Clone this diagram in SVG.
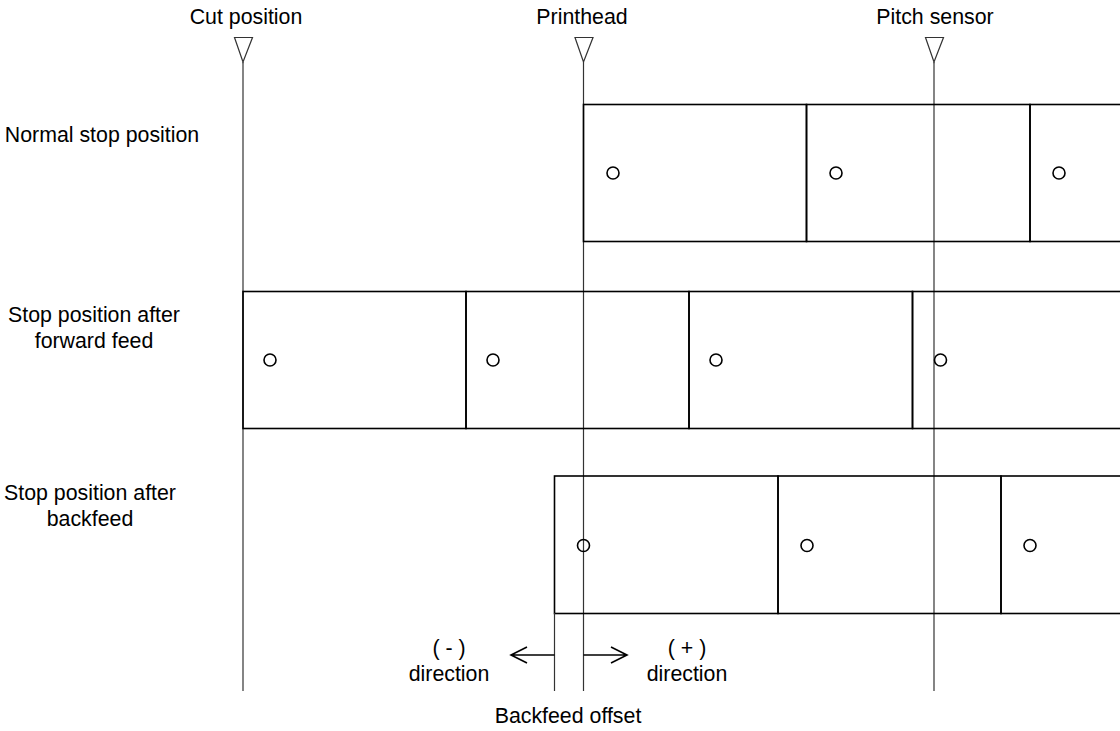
<svg xmlns="http://www.w3.org/2000/svg" width="1120" height="731" viewBox="0 0 1120 731">
<style>
.t{font-family:"Liberation Sans",Arial,sans-serif;font-size:21.33px;fill:#000;text-anchor:middle}
.ref{stroke:#333;stroke-width:1.2;fill:none}
.tri{stroke:#333;stroke-width:1.2;fill:#fff}
.lab{stroke:#000;stroke-width:1.6;fill:none}
.hole{stroke:#000;stroke-width:1.6;fill:none}
.arr{stroke:#000;stroke-width:1.6;fill:none}
</style>
<rect width="1120" height="731" fill="#fff"/>
<g id="reference-lines">
<g id="cut-position">
<line class="ref" x1="243" y1="62" x2="243" y2="691"/>
<polygon class="tri" points="234.5,37.5 252.5,37.5 243,62"/>
<text class="t" x="246" y="24">Cut position</text>
</g>
<g id="printhead">
<line class="ref" x1="583.5" y1="62" x2="583.5" y2="691"/>
<polygon class="tri" points="575,37.5 593,37.5 583.5,62"/>
<text class="t" x="582" y="24">Printhead</text>
</g>
<g id="pitch-sensor">
<line class="ref" x1="934" y1="62" x2="934" y2="691"/>
<polygon class="tri" points="925.5,37.5 943.5,37.5 934,62"/>
<text class="t" x="935" y="24">Pitch sensor</text>
</g>
</g>
<g id="row-normal">
<text class="t" x="102" y="142">Normal stop position</text>
<rect class="lab" x="583.5" y="104.5" width="223" height="137"/>
<rect class="lab" x="806.5" y="104.5" width="223.5" height="137"/>
<rect class="lab" x="1030" y="104.5" width="120" height="137"/>
<circle class="hole" cx="613" cy="173" r="6"/>
<circle class="hole" cx="836" cy="173" r="6"/>
<circle class="hole" cx="1059" cy="173" r="6"/>
</g>
<g id="row-forward">
<text class="t" x="94" y="322">Stop position after</text>
<text class="t" x="94" y="348">forward feed</text>
<rect class="lab" x="243" y="291.5" width="223" height="137"/>
<rect class="lab" x="466" y="291.5" width="223" height="137"/>
<rect class="lab" x="689" y="291.5" width="223.5" height="137"/>
<rect class="lab" x="912.5" y="291.5" width="230" height="137"/>
<circle class="hole" cx="270" cy="360" r="6"/>
<circle class="hole" cx="493" cy="360" r="6"/>
<circle class="hole" cx="716" cy="360" r="6"/>
<circle class="hole" cx="940.5" cy="360" r="6"/>
</g>
<g id="row-backfeed">
<text class="t" x="90" y="500">Stop position after</text>
<text class="t" x="90" y="526">backfeed</text>
<rect class="lab" x="554.5" y="476" width="223.5" height="137.5"/>
<rect class="lab" x="778" y="476" width="223" height="137.5"/>
<rect class="lab" x="1001" y="476" width="140" height="137.5"/>
<circle class="hole" cx="583.5" cy="545.5" r="6"/>
<circle class="hole" cx="807" cy="545.5" r="6"/>
<circle class="hole" cx="1030" cy="545.5" r="6"/>
</g>
<g id="connectors">
<line class="ref" x1="554.5" y1="613" x2="554.5" y2="691"/>
<path class="arr" d="M554.5,655 H511 M527,647 L511,655 L527,663"/>
<path class="arr" d="M583.5,655 H627 M611,647 L627,655 L611,663"/>
</g>
<g id="offset-labels">
<text class="t" x="449" y="655">( - )</text>
<text class="t" x="449" y="681">direction</text>
<text class="t" x="687" y="655">( + )</text>
<text class="t" x="687" y="681">direction</text>
<text class="t" x="568" y="723">Backfeed offset</text>
</g>
</svg>
